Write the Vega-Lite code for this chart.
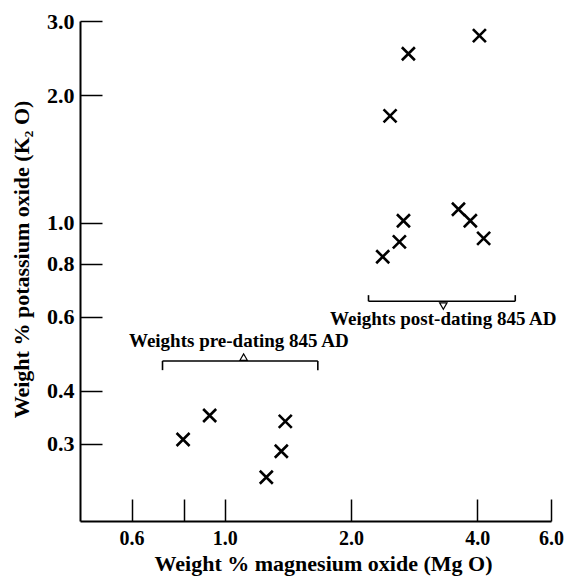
{
  "$schema": "https://vega.github.io/schema/vega-lite/v6.json",
  "width": 471,
  "height": 500,
  "autosize": {"type": "none"},
  "padding": {"left": 80, "top": 21, "right": 17, "bottom": 56},
  "background": "white",
  "config": {"view": {"stroke": null}, "font": "Liberation Serif"},
  "datasets": {
    "pts": [
      {"x": 0.921, "y": 0.350, "group": "pre"},
      {"x": 0.796, "y": 0.307, "group": "pre"},
      {"x": 1.395, "y": 0.339, "group": "pre"},
      {"x": 1.365, "y": 0.288, "group": "pre"},
      {"x": 1.257, "y": 0.250, "group": "pre"},
      {"x": 4.05, "y": 2.77, "group": "post"},
      {"x": 2.742, "y": 2.51, "group": "post"},
      {"x": 2.48, "y": 1.79, "group": "post"},
      {"x": 3.61, "y": 1.076, "group": "post"},
      {"x": 2.669, "y": 1.011, "group": "post"},
      {"x": 3.853, "y": 1.011, "group": "post"},
      {"x": 2.61, "y": 0.901, "group": "post"},
      {"x": 4.145, "y": 0.918, "group": "post"},
      {"x": 2.382, "y": 0.831, "group": "post"}
    ],
    "hbars": [
      {"x": 0.711, "x2": 1.668, "y": 0.471},
      {"x": 2.203, "x2": 4.931, "y": 0.652}
    ],
    "ends": [
      {"x": 0.711, "y": 0.471, "y2": 0.448},
      {"x": 1.668, "y": 0.471, "y2": 0.448},
      {"x": 2.203, "y": 0.652, "y2": 0.674},
      {"x": 4.931, "y": 0.652, "y2": 0.674}
    ],
    "tris": [
      {"x": 1.110, "y": 0.481, "shape": "triangle-up"},
      {"x": 3.322, "y": 0.635, "shape": "triangle-down"}
    ],
    "labels": [
      {"x": 1.081, "y": 0.507, "label": "Weights pre-dating 845 AD"},
      {"x": 3.322, "y": 0.572, "label": "Weights post-dating 845 AD"}
    ]
  },
  "encoding": {
    "x": {
      "field": "x",
      "type": "quantitative",
      "scale": {"type": "log", "domain": [0.452, 6.0], "nice": false, "zero": false},
      "axis": {
        "values": [0.6, 0.8, 1, 2, 4, 6],
        "labelExpr": "datum.value == 0.8 ? '' : format(datum.value, '.1f')",
        "grid": false,
        "tickSize": -22,
        "tickWidth": 1.5,
        "tickColor": "black",
        "domainColor": "black",
        "domainWidth": 2,
        "labelFont": "Liberation Serif",
        "labelFontWeight": "bold",
        "labelFontSize": 20,
        "labelColor": "black",
        "labelPadding": 29,
        "labelFlush": false,
        "labelOverlap": false,
        "title": "Weight % magnesium oxide (Mg O)",
        "titleFont": "Liberation Serif",
        "titleFontWeight": "bold",
        "titleFontSize": 22,
        "titleColor": "black",
        "titleX": 243,
        "titleY": 49,
        "titleBaseline": "alphabetic"
      }
    },
    "y": {
      "field": "y",
      "type": "quantitative",
      "scale": {"type": "log", "domain": [0.197, 3.0], "nice": false, "zero": false},
      "axis": {
        "values": [0.3, 0.4, 0.6, 0.8, 1, 2, 3],
        "labelExpr": "format(datum.value, '.1f')",
        "grid": false,
        "tickSize": -22,
        "tickWidth": 1.5,
        "tickColor": "black",
        "domainColor": "black",
        "domainWidth": 2,
        "labelFont": "Liberation Serif",
        "labelFontWeight": "bold",
        "labelFontSize": 22,
        "labelColor": "black",
        "labelPadding": 28,
        "labelOverlap": false,
        "title": "Weight % potassium oxide (K₂ O)",
        "titleFont": "Liberation Serif",
        "titleFontWeight": "bold",
        "titleFontSize": 22,
        "titleColor": "black",
        "titleX": -59,
        "titleY": 238,
        "titleBaseline": "middle",
        "titleAngle": -90
      }
    }
  },
  "layer": [
    {
      "data": {"name": "pts"},
      "mark": {"type": "point", "shape": "M-1,-1L1,1M-1,1L1,-1", "filled": false, "stroke": "black", "strokeWidth": 2.6, "size": 169, "opacity": 1}
    },
    {
      "data": {"name": "hbars"},
      "mark": {"type": "rule", "color": "black", "strokeWidth": 1.6},
      "encoding": {"x2": {"field": "x2"}}
    },
    {
      "data": {"name": "ends"},
      "mark": {"type": "rule", "color": "black", "strokeWidth": 1.6},
      "encoding": {"y2": {"field": "y2"}}
    },
    {
      "data": {"name": "tris"},
      "mark": {"type": "point", "filled": false, "stroke": "black", "strokeWidth": 1.2, "size": 55, "opacity": 1},
      "encoding": {"shape": {"field": "shape", "type": "nominal", "scale": null}}
    },
    {
      "data": {"name": "labels"},
      "mark": {"type": "text", "font": "Liberation Serif", "fontWeight": "bold", "fontSize": 19, "color": "black", "align": "center", "baseline": "alphabetic"},
      "encoding": {"text": {"field": "label"}}
    }
  ]
}
